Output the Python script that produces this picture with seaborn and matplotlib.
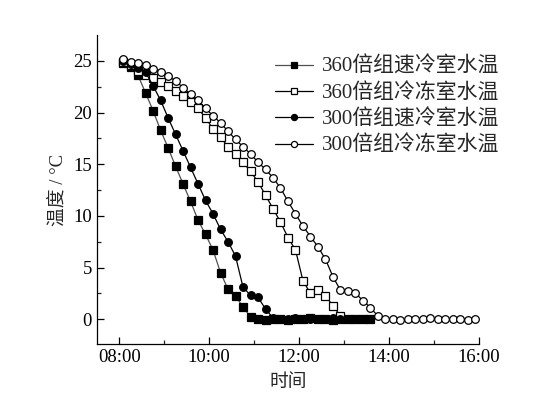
import matplotlib
matplotlib.use('Agg')
import matplotlib.pyplot as plt
import matplotlib.dates as mdates
import seaborn as sns
import pandas as pd

# 10-minute sampling, first reading at 08:05
start_time = '2020-01-01 08:05'
step = '10min'

# 360倍组速冷室水温 (filled squares)
fast_360 = [24.8, 24.4, 23.6, 21.9, 20.2, 18.3, 16.6, 14.8, 13.1, 11.4, 9.6, 8.2,
            6.7, 4.5, 2.9, 2.2, 1.2, 0.2, 0.0, -0.1, 0.0, 0.0, -0.1, 0.0, 0.0, 0.1,
            0.0, 0.0, -0.1, 0.0, 0.0, 0.0, 0.0, 0.0]
# 360倍组冷冻室水温 (open squares)
freeze_360 = [24.9, 24.6, 24.0, 23.6, 23.3, 23.0, 22.6, 22.1, 21.6, 21.0, 20.4, 19.5,
              18.4, 17.6, 16.7, 16.0, 15.2, 14.3, 13.3, 12.0, 10.7, 9.4, 7.9, 6.7,
              3.7, 2.5, 2.8, 2.25, 1.3, 0.3]
# 300倍组速冷室水温 (filled circles)
fast_300 = [25.0, 24.7, 24.3, 23.9, 22.6, 21.2, 19.5, 17.9, 16.3, 14.7, 13.1, 11.5,
            10.2, 8.7, 7.5, 6.1, 3.1, 2.3, 2.1, 1.0, 0.1, 0.0, 0.0, 0.1, 0.0, 0.0,
            0.0, 0.0, 0.1, 0.0, 0.0, 0.0, 0.0, 0.0]
# 300倍组冷冻室水温 (open circles)
freeze_300 = [25.2, 24.9, 24.8, 24.6, 24.2, 23.9, 23.5, 23.1, 22.4, 21.8, 21.2, 20.4,
              19.7, 19.0, 18.2, 17.4, 16.7, 16.0, 15.2, 14.5, 13.7, 12.7, 11.4, 10.2,
              9.0, 8.0, 7.0, 5.8, 4.1, 2.8, 2.7, 2.5, 1.8, 1.1, 0.3, 0.0, 0.0, -0.1,
              0.0, 0.0, 0.0, 0.1, 0.0, 0.0, 0.0, 0.0, -0.1, 0.0]

labels = ['360倍组速冷室水温', '360倍组冷冻室水温', '300倍组速冷室水温', '300倍组冷冻室水温']

sns.set_style('ticks')
plt.rcParams['font.family'] = ['Liberation Serif', 'Noto Sans CJK SC']
plt.rcParams['axes.unicode_minus'] = False
plt.rcParams['xtick.direction'] = 'in'
plt.rcParams['ytick.direction'] = 'in'

fig = plt.figure(figsize=(5.47, 3.99), dpi=100)
ax = fig.add_axes([0.177, 0.138, 0.699, 0.774])

series = [
    (fast_360, dict(marker='s', color='#505050', mfc='black', mec='black')),
    (freeze_360, dict(marker='s', color='black', mfc='white', mec='black')),
    (fast_300, dict(marker='o', color='black', mfc='black', mec='black')),
    (freeze_300, dict(marker='o', color='black', mfc='white', mec='black')),
]

for (vals, style), lab in zip(series, labels):
    df = pd.DataFrame({'time': pd.date_range(start_time, periods=len(vals), freq=step),
                       'temp': vals})
    sns.lineplot(data=df, x='time', y='temp', ax=ax, label=lab, lw=0.9, ms=5.5,
                 mew=0.9, **style)

ax.set_xlim(pd.Timestamp('2020-01-01 07:30'), pd.Timestamp('2020-01-01 16:00'))
ax.set_ylim(-2.4, 27.5)
ax.xaxis.set_major_locator(mdates.HourLocator(byhour=[8, 10, 12, 14, 16]))
ax.xaxis.set_minor_locator(mdates.HourLocator(byhour=[9, 11, 13, 15]))
ax.xaxis.set_major_formatter(mdates.DateFormatter('%H:%M'))
ax.set_yticks([0, 5, 10, 15, 20, 25])
ax.set_yticks([2.5 * k for k in range(0, 11)], minor=True)
ax.tick_params(which='major', length=5, width=0.9, labelsize=13.5, colors='black')
ax.tick_params(which='minor', length=3, width=0.9)
for s in ['top', 'right']:
    ax.spines[s].set_visible(False)
for s in ['left', 'bottom']:
    ax.spines[s].set_linewidth(0.9)
    ax.spines[s].set_color('black')

ax.set_xlabel('时间', fontsize=13.5, labelpad=6)
ax.set_ylabel('温度 / °C', fontsize=13.5, labelpad=4)

ax.legend(loc='upper left', bbox_to_anchor=(0.502, 0.857), bbox_transform=fig.transFigure,
          frameon=False, fontsize=15, handlelength=1.85, handletextpad=0.43,
          labelspacing=0.3, borderpad=0, borderaxespad=0, markerscale=0.8)

fig.savefig('out.png', dpi=100)
